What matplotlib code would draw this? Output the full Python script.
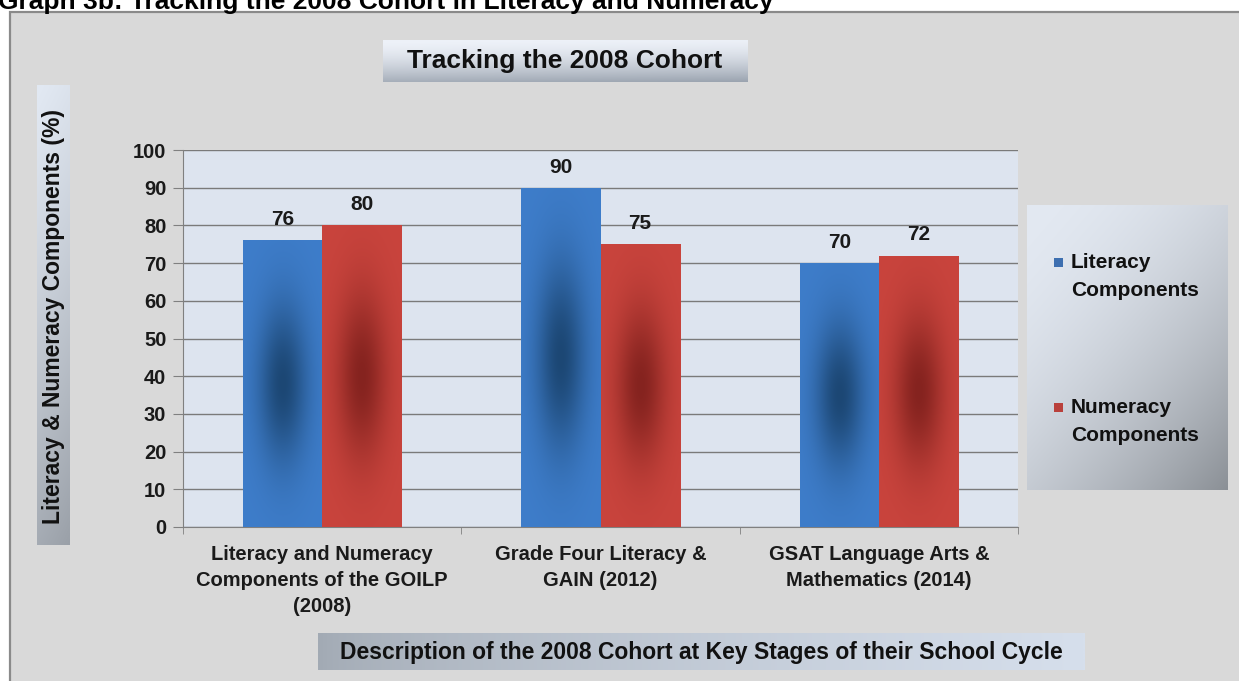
import numpy as np
import matplotlib
matplotlib.use('Agg')
import matplotlib.pyplot as plt
from matplotlib.patches import Rectangle
from matplotlib.colors import to_rgb

# ---------------- data ----------------
categories = ["Literacy and Numeracy\nComponents of the GOILP\n(2008)",
              "Grade Four Literacy &\nGAIN (2012)",
              "GSAT Language Arts &\nMathematics (2014)"]
series_names = ["Literacy\nComponents", "Numeracy\nComponents"]
literacy = [76, 90, 70]
numeracy = [80, 75, 72]
yticks = list(range(0, 101, 10))
title = "Tracking the 2008 Cohort"
header = "Graph 3b: Tracking the 2008 Cohort in Literacy and Numeracy"
xlabel = "Description of the 2008 Cohort at Key Stages of their School Cycle"
ylabel = "Literacy & Numeracy Components (%)"

plt.rcParams['font.family'] = ['Liberation Sans', 'DejaVu Sans']
plt.rcParams['font.weight'] = 'bold'

W, H = 1239, 681
fig = plt.figure(figsize=(W / 100, H / 100), dpi=100)
fig.patch.set_facecolor('white')

# background / decoration layer in pixel coordinates
bg = fig.add_axes([0, 0, 1, 1], zorder=0)
bg.set_xlim(0, W)
bg.set_ylim(H, 0)
bg.axis('off')


def mix(c0, c1, s):
    c0 = np.array(to_rgb(c0))
    c1 = np.array(to_rgb(c1))
    s = np.clip(s, 0, 1)[..., None]
    return c0 * (1 - s) + c1 * s


def grad_box(x0, y0, x1, y1, c0, c1, wu, wv, power=1.0, z=1):
    n = 200
    u, v = np.meshgrid(np.linspace(0, 1, n), np.linspace(0, 1, n))
    s = (wu * u + wv * v) / (wu + wv)
    s = s ** power
    img = mix(c0, c1, s)
    bg.imshow(img, extent=[x0, x1, y1, y0], aspect='auto', zorder=z,
              interpolation='bilinear')


# outer frame
bg.add_patch(Rectangle((10, 12), W, H, facecolor='#d9d9d9', edgecolor='#8a8a8a',
                       lw=1.6, zorder=0.5))
# header text (cut by the top of the image, as in the reference)
bg.text(-2, 9, header, fontsize=19, ha='left', va='baseline', color='black', zorder=2)

# title box
grad_box(383, 40, 748, 82, '#eef2f9', '#9aa3af', 0.1, 1.0, power=1.6)
bg.text(565, 61, title, fontsize=19, ha='center', va='center', color='#111111', zorder=3)

# y label box
grad_box(37, 85, 70, 545, '#e2e9f3', '#9aa0a8', 0.15, 1.0, power=1.2)
bg.text(54, 316, ylabel, fontsize=16.5, rotation=90, ha='center', va='center',
        color='#111111', zorder=3)

# x label box
grad_box(318, 633, 1085, 670, '#a2aab4', '#d6dfec', 1.0, 0.0, power=0.7)
bg.text(701, 652, xlabel, fontsize=16.5, ha='center', va='center', color='#111111', zorder=3)

# legend box
grad_box(1027, 205, 1228, 490, '#e3e9f2', '#8b9096', 0.45, 0.55, power=1.8)

# ---------------- main axes ----------------
ax = fig.add_axes([183 / W, 1 - 527 / H, (1018 - 183) / W, (527 - 150) / H], zorder=2)
ax.set_facecolor('#dde4ef')

x = np.arange(len(categories))
bw = 0.284
blue_edge, blue_center = '#3e7dca', '#1c4774'
red_edge, red_center = '#c9443d', '#85231f'

b1 = ax.bar(x - bw / 2, literacy, bw, color=blue_edge, zorder=3, linewidth=0)
b2 = ax.bar(x + bw / 2, numeracy, bw, color=red_edge, zorder=3, linewidth=0)


def bar_grad(c_edge, c_center):
    n = 120
    u, v = np.meshgrid(np.linspace(-1, 1, n), np.linspace(-1, 1, n))
    t = np.exp(-(u / 0.62) ** 2 - (v / 0.55) ** 2)
    return mix(c_edge, c_center, t)


for bars, ce, cc in [(b1, blue_edge, blue_center), (b2, red_edge, red_center)]:
    img = bar_grad(ce, cc)
    for rect in bars:
        x0, wd, h = rect.get_x(), rect.get_width(), rect.get_height()
        im = ax.imshow(img, extent=[x0, x0 + wd, 0, h], aspect='auto', origin='lower',
                       zorder=3.5, interpolation='bilinear')
        im.set_clip_path(rect)

for bars in (b1, b2):
    ax.bar_label(bars, padding=8, fontsize=15, fontweight='bold', color='#1a1a1a', zorder=6)

ax.set_xlim(-0.5, len(categories) - 0.5)
ax.set_ylim(0, 100)
ax.set_yticks(yticks)
ax.set_xticks(x)
ax.set_xticklabels(categories, fontsize=14.5, fontweight='bold', linespacing=1.45)
ax.set_xticks(np.arange(len(categories) + 1) - 0.5, minor=True)
ax.tick_params(axis='x', which='major', length=0, pad=13, colors='#1a1a1a')
ax.tick_params(axis='x', which='minor', length=5, color='#808080', direction='out')
ax.tick_params(axis='y', length=7, pad=5, labelsize=14.5, color='#808080', labelcolor='#1a1a1a')
for lbl in ax.get_yticklabels():
    lbl.set_fontweight('bold')

ax.yaxis.grid(True, color='#7a7a7a', lw=1.0)
ax.set_axisbelow(True)
for s in ('top', 'right'):
    ax.spines[s].set_visible(False)
ax.spines['left'].set_color('#808080')
ax.spines['bottom'].set_color('#808080')

# legend (manual, to align markers with first line)
leg_colors = ['#3d6fb0', '#b9403b']
for i, (name, col) in enumerate(zip(series_names, leg_colors)):
    yc = 262 + i * 145
    bg.add_patch(Rectangle((1054, yc - 4.5), 9, 9, facecolor=col, edgecolor='none', zorder=3))
    bg.text(1071, yc - 9, name, fontsize=15, ha='left', va='top', linespacing=1.6,
            color='#111111', zorder=3)

fig.savefig('out.png', dpi=100, facecolor=fig.get_facecolor())
